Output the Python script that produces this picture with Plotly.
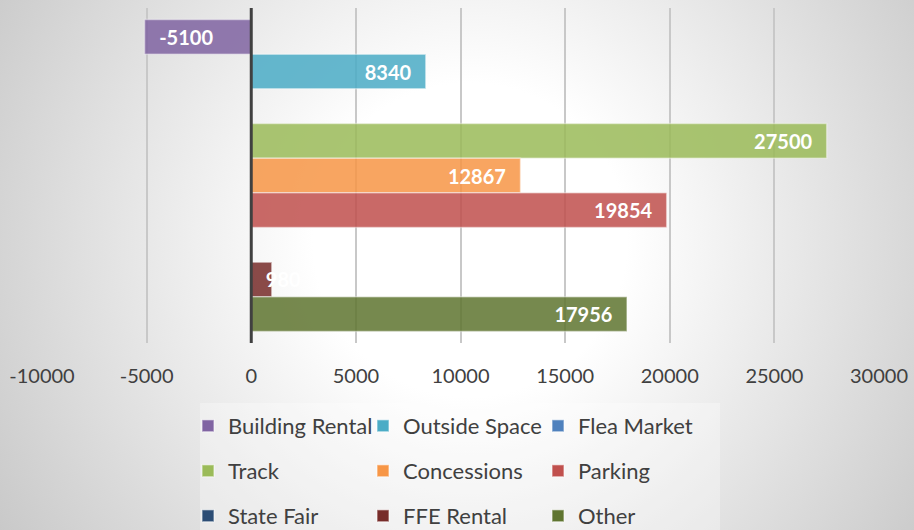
import base64
import plotly.graph_objects as go

series = ["Building Rental", "Outside Space", "Flea Market", "Track", "Concessions",
          "Parking", "State Fair", "FFE Rental", "Other"]
values = [-5100, 8340, 0, 27500, 12867, 19854, 0, 980, 17956]
colors = ["#8064A2", "#4BACC6", "#4F81BD", "#9BBB59", "#F79646",
          "#C0504D", "#2C4D75", "#772C2A", "#5F7530"]
category = ["Revenue"]
tick_vals = [-10000, -5000, 0, 5000, 10000, 15000, 20000, 25000, 30000]
tick_text = ["-10000", "-5000", "0", "5000", "10000", "15000", "20000", "25000", "30000"]

W, H = 914, 530
ML, MR, MT, MB = 42, 35, 8, 187
PW, PH = W - ML - MR, H - MT - MB

def px_x(px):
    return (px - ML) / PW

def px_y(py):
    return (H - MB - py) / PH

svg = f'''<svg xmlns="http://www.w3.org/2000/svg" width="{W}" height="{H}">
<defs><radialGradient id="g" gradientUnits="userSpaceOnUse" cx="470" cy="240" r="560">
<stop offset="0" stop-color="#ffffff"/><stop offset="0.28" stop-color="#ffffff"/>
<stop offset="1" stop-color="#c8c8c8"/></radialGradient></defs>
<rect width="{W}" height="{H}" fill="url(#g)"/></svg>'''
bg_uri = "data:image/svg+xml;base64," + base64.b64encode(svg.encode()).decode()

fig = go.Figure()
legend_names = ["legend", "legend", "legend", "legend2", "legend2", "legend2",
                "legend3", "legend3", "legend3"]
SMALL = 3000
for i, (name, v, c) in enumerate(zip(series, values, colors)):
    anchor = "end"
    if v == 0:
        txt = [""]
    elif v < 0:
        txt = ["\u2007" + str(v)]
    elif v < SMALL:
        txt = ["\u2007" + str(v)]
        anchor = "start"
    else:
        txt = [str(v) + "\u2007"]
    fig.add_trace(go.Bar(
        name=name, x=[v], y=category, orientation="h",
        marker=dict(color=c, opacity=0.85, line=dict(color="rgba(255,255,255,0.45)", width=1.5)),
        text=txt, textposition="inside", insidetextanchor=anchor,
        constraintext="none", textangle=0,
        textfont=dict(family="Lato", size=20, color="white", weight="bold"),
        legend=legend_names[i], hoverinfo="skip",
    ))

legend_common = dict(orientation="h", entrywidth=130, entrywidthmode="pixels",
                     font=dict(family="Lato", size=22, color="#404040"),
                     bgcolor="rgba(0,0,0,0)", xanchor="left", yanchor="middle",
                     itemclick=False, itemdoubleclick=False)

fig.update_layout(
    width=W, height=H,
    margin=dict(l=ML, r=MR, t=MT, b=MB, autoexpand=False),
    paper_bgcolor="#ffffff", plot_bgcolor="rgba(0,0,0,0)",
    barmode="group", bargap=0.069, bargroupgap=0,
    showlegend=True,
    legend=dict(x=px_x(188), y=px_y(426), **legend_common),
    legend2=dict(x=px_x(188), y=px_y(471), **legend_common),
    legend3=dict(x=px_x(188), y=px_y(516), **legend_common),
    xaxis=dict(range=[-10000, 30000], tickvals=tick_vals, ticktext=tick_text,
               showgrid=True, gridcolor="#c8c8c8", gridwidth=1.5, zeroline=False,
               showline=False, ticks="", ticklabelstandoff=19,
               tickfont=dict(family="Lato", size=20, color="#404040")),
    yaxis=dict(autorange="reversed", showticklabels=False, showgrid=False,
               zeroline=False, showline=False),
    images=[dict(source=bg_uri, xref="paper", yref="paper",
                 x=-ML / PW, y=1 + MT / PH, sizex=W / PW, sizey=H / PH,
                 xanchor="left", yanchor="top", sizing="stretch", layer="below")],
    shapes=[dict(type="rect", xref="paper", yref="paper",
                 x0=px_x(200), x1=px_x(720), y0=px_y(530), y1=px_y(403),
                 fillcolor="rgba(255,255,255,0.3)", line=dict(width=0), layer="below"),
            dict(type="line", xref="x", yref="paper", x0=0, x1=0, y0=0, y1=1,
                 line=dict(color="#404040", width=3), layer="above")],
)

fig.write_html("out.html")
